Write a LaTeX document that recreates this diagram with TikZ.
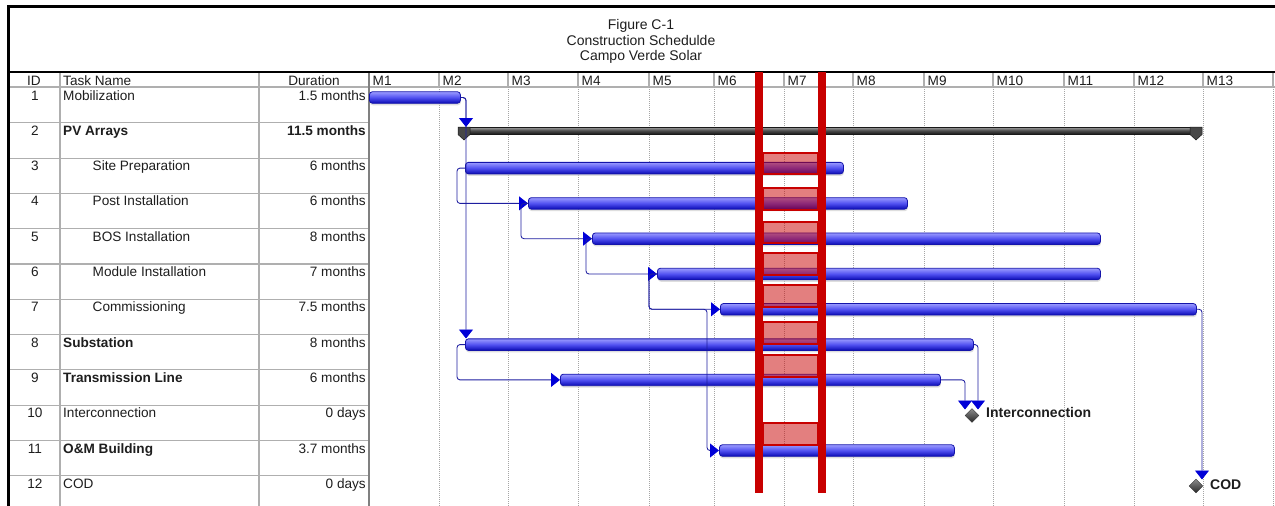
\documentclass[tikz,border=0pt]{standalone}
\usepackage{fontspec}
\setmainfont{Liberation Sans}
\usetikzlibrary{arrows.meta,shapes.geometric,shadows}
\definecolor{barlight}{RGB}{155,155,255}
\definecolor{barmid}{RGB}{80,80,240}
\definecolor{bardark}{RGB}{10,10,180}
\definecolor{barborder}{RGB}{20,20,170}
\definecolor{linkblue}{RGB}{30,30,160}
\definecolor{tipblue}{RGB}{0,0,215}
\definecolor{gridgray}{RGB}{175,175,175}
\definecolor{dotgray}{RGB}{165,165,165}
\definecolor{hired}{RGB}{200,0,0}
\definecolor{celltext}{RGB}{30,30,30}
\tikzset{
 cell/.style={inner sep=0pt, text=celltext, font=\fontsize{13.6}{15}\selectfont},
 boldcell/.style={inner sep=0pt, text=celltext, font=\fontsize{13.6}{15}\selectfont\bfseries},
 titletext/.style={inner sep=0pt, text=celltext, font=\fontsize{14}{16}\selectfont},
 mslabel/.style={inner sep=0pt, text=celltext, font=\fontsize{14}{16}\selectfont\bfseries},
 tablegrid/.style={draw=gridgray, line width=1.1pt},
 griddot/.style={draw=dotgray, line width=0.6pt, dash pattern=on 1pt off 1pt},
 ganttbar/.style={rectangle, anchor=west, rounded corners=3pt, minimum height=11.5pt, inner sep=0pt, draw=barborder, line width=0.8pt, top color=barlight, bottom color=bardark, middle color=barmid, drop shadow={shadow xshift=0.5pt, shadow yshift=-2pt, fill=black!25, opacity=0.5}},
 sumbar/.style={rectangle, anchor=west, minimum height=7pt, inner sep=0pt, draw=black!90, line width=0.6pt, top color=black!35, bottom color=black!90, middle color=black!70},
 sumend/.style={fill=black!72, draw=black!90, line width=0.5pt},
 milestone/.style={diamond, minimum size=14pt, inner sep=0pt, draw=black!80, line width=0.4pt, top color=black!45, bottom color=black!85},
 link/.style={draw=linkblue, line width=0.85pt, rounded corners=3pt, -{Triangle[width=14pt,length=9pt,color=tipblue,fill=tipblue]}},
 redbox/.style={draw=hired, line width=1.5pt, fill=hired, fill opacity=0.5},
}
\begin{document}
\begin{tikzpicture}[x=1pt,y=-1pt]
\useasboundingbox (0,0) rectangle (1275,506);
\fill[white] (0,0) rectangle (1275,506);

% table grid
\foreach \y in {122.8,158.1,193.4,228.7,264.0,299.3,334.6,369.9,405.2,440.5,475.8}
  \draw[tablegrid] (8,\y) -- (369,\y);
\draw[tablegrid] (60,72) -- (60,506);
\draw[tablegrid] (259,72) -- (259,506);
\draw[tablegrid] (8,87) -- (1275,87);
\foreach \x in {439,508,578,649,714,784,853,924,993,1064,1134,1203,1273} {
  \draw[tablegrid] (\x,72) -- (\x,87);
  \draw[griddot] (\x,87) -- (\x,506);
}
\draw[draw=black!50, line width=1.4pt] (369,72) -- (369,506);
\draw[black, line width=1.5pt] (8,72) -- (1275,72);
\draw[black, line width=3pt] (7,6.5) -- (1275,6.5);
\draw[black, line width=3pt] (8.5,5) -- (8.5,506);

% title
\node[titletext, anchor=base] (title1) at (641,29.5) {Figure C-1};
\node[titletext, anchor=base] (title2) at (641,45) {Construction Schedulde};
\node[titletext, anchor=base] (title3) at (641,60.5) {Campo Verde Solar};

% header
\node[cell, anchor=base] (hid) at (34,85.5) {ID};
\node[cell, anchor=base west] (hname) at (63,85.5) {Task Name};
\node[cell, anchor=base] (hdur) at (314,85.5) {Duration};
\foreach \i/\x in {1/369,2/439,3/508,4/578,5/649,6/714,7/784,8/853,9/924,10/993,11/1064,12/1134,13/1203}
  \node[cell, anchor=base west] (mh\i) at (\x+3.5,85.5) {M\i};

% ids
\foreach \k/\y in {1/87.5,2/122.8,3/158.1,4/193.4,5/228.7,6/264.0,7/299.3,8/334.6,9/369.9,10/405.2,11/440.5,12/475.8}
  \node[cell, anchor=base] (id\k) at (35,\y+12.5) {\k};

% task names
\node[cell, anchor=base west] (tn1) at (63,100) {Mobilization};
\node[boldcell, anchor=base west] (tn2) at (63,135.3) {PV Arrays};
\node[cell, anchor=base west] (tn3) at (92.5,170.6) {Site Preparation};
\node[cell, anchor=base west] (tn4) at (92.5,205.9) {Post Installation};
\node[cell, anchor=base west] (tn5) at (92.5,241.2) {BOS Installation};
\node[cell, anchor=base west] (tn6) at (92.5,276.5) {Module Installation};
\node[cell, anchor=base west] (tn7) at (92.5,311.8) {Commissioning};
\node[boldcell, anchor=base west] (tn8) at (63,347.1) {Substation};
\node[boldcell, anchor=base west] (tn9) at (63,382.4) {Transmission Line};
\node[cell, anchor=base west] (tn10) at (63,417.7) {Interconnection};
\node[boldcell, anchor=base west] (tn11) at (63,453) {O\&M Building};
\node[cell, anchor=base west] (tn12) at (63,488.3) {COD};

% durations
\node[cell, anchor=base east] (du1) at (366,100) {1.5 months};
\node[boldcell, anchor=base east] (du2) at (366,135.3) {11.5 months};
\node[cell, anchor=base east] (du3) at (366,170.6) {6 months};
\node[cell, anchor=base east] (du4) at (366,205.9) {6 months};
\node[cell, anchor=base east] (du5) at (366,241.2) {8 months};
\node[cell, anchor=base east] (du6) at (366,276.5) {7 months};
\node[cell, anchor=base east] (du7) at (366,311.8) {7.5 months};
\node[cell, anchor=base east] (du8) at (366,347.1) {8 months};
\node[cell, anchor=base east] (du9) at (366,382.4) {6 months};
\node[cell, anchor=base east] (du10) at (366,417.7) {0 days};
\node[cell, anchor=base east] (du11) at (366,453) {3.7 months};
\node[cell, anchor=base east] (du12) at (366,488.3) {0 days};

% summary bar
\node[sumbar, minimum width=740pt] (b2) at (460,130.5) {};
\fill[sumend] (458,127) -- (470,127) -- (470,134.5) -- (464,140) -- (458,134.5) -- cycle;
\fill[sumend] (1190,127) -- (1202,127) -- (1202,134.5) -- (1196,140) -- (1190,134.5) -- cycle;

% task bars
\node[ganttbar, minimum width=91pt] (b1) at (369,97.5) {};
\node[ganttbar, minimum width=378pt] (b3) at (465,168.1) {};
\node[ganttbar, minimum width=379pt] (b4) at (528,203.4) {};
\node[ganttbar, minimum width=508pt] (b5) at (592,238.7) {};
\node[ganttbar, minimum width=443pt] (b6) at (657,274.0) {};
\node[ganttbar, minimum width=476pt] (b7) at (720,309.3) {};
\node[ganttbar, minimum width=508pt] (b8) at (465,344.6) {};
\node[ganttbar, minimum width=380pt] (b9) at (560,379.9) {};
\node[ganttbar, minimum width=235pt] (b11) at (719,450.5) {};

% milestones
\node[milestone] (m10) at (972,415.5) {};
\node[milestone] (m12) at (1196,486) {};
\node[mslabel, anchor=base west] (lbl10) at (986,417.5) {Interconnection};
\node[mslabel, anchor=base west] (lbl12) at (1210,489) {COD};

% links
\coordinate (a2) at (466,127);
\coordinate (a8) at (466,338.5);
\coordinate (a10r) at (978,409.5);
\coordinate (a10l) at (965,409.5);
\coordinate (a12) at (1202,479.5);
\draw[link] (b1.east) -| (a8);
\draw[link] (b1.east) -| (a2);
\draw[link] (b3.west) -- ++(-8,0) |- (b4.west);
\draw[link] (b4.west) -- ++(-7,0) |- (b5.west);
\draw[link] (b5.west) -- ++(-6,0) |- (b6.west);
\draw[link] (b6.west) -- ++(-8,0) |- (b7.west);
\draw[link] (b6.west) -- ++(-8,0) |- ([xshift=-13pt]b7.west) |- (b11.west);
\draw[link] (b8.west) -- ++(-8,0) |- (b9.west);
\draw[link] (b8.east) -| (a10r);
\draw[link] (b9.east) -| (a10l);
\draw[link] (b7.east) -| (a12);

% red overlay
\foreach \t/\b in {153/174,188/210,222/243,253/275,285/307,322/344,355/377,423/445}
  \draw[redbox] (763,\t) rectangle (818,\b);
\fill[hired] (755,72) rectangle (763,493);
\fill[hired] (818,72) rectangle (826,493);
\end{tikzpicture}
\end{document}
